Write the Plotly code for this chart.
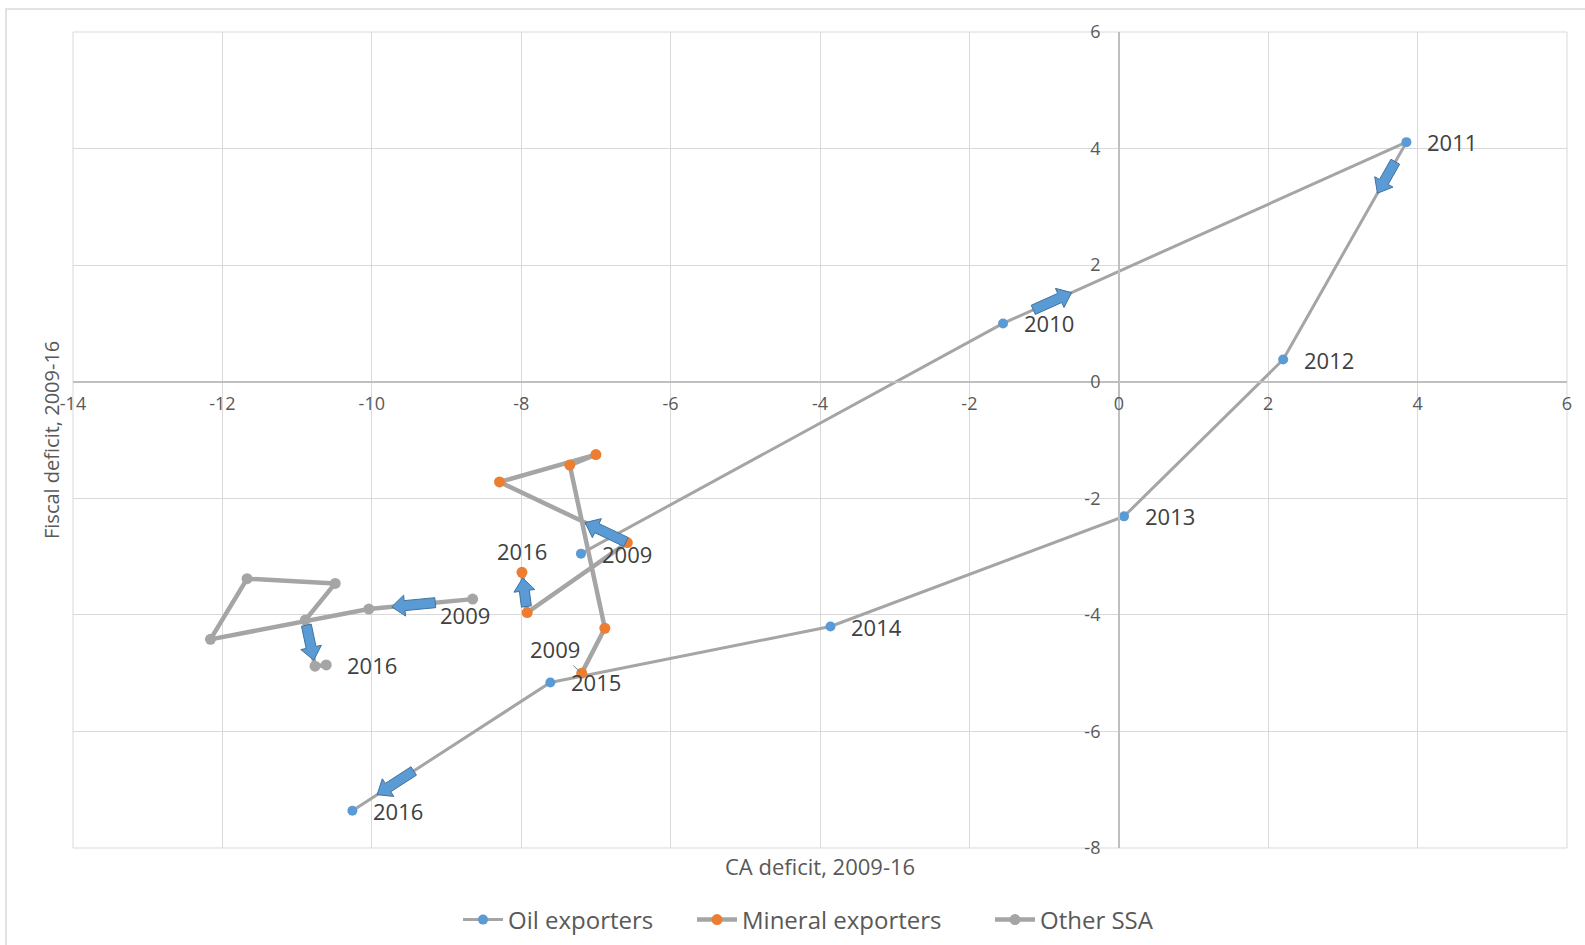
import math
import plotly.graph_objects as go

# ---- data: CA deficit (x) vs fiscal deficit (y), % of GDP, 2009-16 ----
years = [2009, 2010, 2011, 2012, 2013, 2014, 2015, 2016]

oil_ca = [-7.20, -1.55, 3.85, 2.20, 0.07, -3.86, -7.61, -10.26]
oil_fiscal = [-2.95, 1.00, 4.11, 0.38, -2.31, -4.20, -5.16, -7.36]

mineral_ca = [-7.19, -6.88, -7.35, -7.00, -8.29, -6.58, -7.92, -7.99]
mineral_fiscal = [-5.00, -4.23, -1.43, -1.25, -1.72, -2.76, -3.96, -3.27]

other_ca = [-8.65, -10.04, -12.16, -11.67, -10.49, -10.89, -10.76, -10.61]
other_fiscal = [-3.73, -3.90, -4.42, -3.38, -3.46, -4.09, -4.88, -4.86]

x_ticks = [-14, -12, -10, -8, -6, -4, -2, 0, 2, 4, 6]
y_ticks = [-8, -6, -4, -2, 0, 2, 4, 6]

series_names = ["Oil exporters", "Mineral exporters", "Other SSA"]

# ---- layout constants ----
W, H = 1585, 945
ML, MR, MT, MB = 73, 18, 32, 97
PW, PH = W - ML - MR, H - MT - MB
X0, X1 = -14, 6
Y0, Y1 = -8, 6
FONT = "Open Sans, Arial, sans-serif"
GRID = "#D9D9D9"
AXIS = "#BFBFBF"
LINE_GREY = "#A5A5A5"

series = {
    "oil": dict(x=oil_ca, y=oil_fiscal, name=series_names[0], color="#5B9BD5", lw=3, ms=10),
    "mineral": dict(x=mineral_ca, y=mineral_fiscal, name=series_names[1], color="#ED7D31", lw=4.5, ms=11),
    "other": dict(x=other_ca, y=other_fiscal, name=series_names[2], color="#A5A5A5", lw=4.5, ms=11),
}

# legend slot for each series and the pixel where its entry starts
legend_slots = {"oil": ("legend", 458), "mineral": ("legend2", 692), "other": ("legend3", 990)}

# which years carry a label, and where the label sits relative to its point
labels = {
    "oil": {y: "right" for y in years},
    "mineral": {2009: "leader", 2016: "above"},
    "other": {2009: "below", 2016: "right"},
}

# direction arrows: (series, from index, to index, start fraction, end fraction)
arrows = [
    ("oil", 1, 2, 0.075, 0.17),
    ("oil", 2, 3, 0.09, 0.235),
    ("oil", 6, 7, 0.69, 0.875),
    ("mineral", 5, 4, 0.01, 0.33),
    ("mineral", 6, 7, 0.15, 0.86),
    ("other", 0, 1, 0.36, 0.78),
    ("other", 5, 6, 0.11, 0.87),
]


def to_px(x, y):
    return (x - X0) / (X1 - X0) * PW, (Y1 - y) / (Y1 - Y0) * PH


def to_data(px, py):
    return X0 + px / PW * (X1 - X0), Y1 - py / PH * (Y1 - Y0)


def block_arrow(key, i, j, t0, t1, hw=5.0, hh=10.5, hl=13.0):
    s = series[key]
    ax, ay = to_px(s["x"][i], s["y"][i])
    bx, by = to_px(s["x"][j], s["y"][j])
    tx, ty = ax + t0 * (bx - ax), ay + t0 * (by - ay)
    px, py = ax + t1 * (bx - ax), ay + t1 * (by - ay)
    L = math.hypot(px - tx, py - ty)
    dx, dy = (px - tx) / L, (py - ty) / L
    nx, ny = -dy, dx
    kx, ky = px - dx * hl, py - dy * hl
    pts = [
        (tx + nx * hw, ty + ny * hw),
        (kx + nx * hw, ky + ny * hw),
        (kx + nx * hh, ky + ny * hh),
        (px, py),
        (kx - nx * hh, ky - ny * hh),
        (kx - nx * hw, ky - ny * hw),
        (tx - nx * hw, ty - ny * hw),
    ]
    coords = [to_data(a, b) for a, b in pts]
    path = "M " + " L ".join(f"{a:.5f},{b:.5f}" for a, b in coords) + " Z"
    return dict(type="path", xref="x", yref="y", path=path,
                fillcolor="#5B9BD5", line=dict(color="#41719C", width=1), layer="above")


fig = go.Figure()
for key, s in series.items():
    fig.add_trace(go.Scatter(
        x=s["x"], y=s["y"], name=s["name"], mode="lines+markers",
        line=dict(color=LINE_GREY, width=s["lw"]),
        marker=dict(color=s["color"], size=s["ms"], line=dict(width=0)),
        text=[str(y) for y in years], hoverinfo="text+x+y",
        legend=legend_slots[key][0],
    ))

annotations = []
label_font = dict(family=FONT, size=22, color="#404040")
for key, spec in labels.items():
    s = series[key]
    for yr, pos in spec.items():
        k = years.index(yr)
        a = dict(x=s["x"][k], y=s["y"][k], xref="x", yref="y", text=str(yr),
                 showarrow=False, font=label_font)
        if pos == "right":
            a.update(xanchor="left", yanchor="middle", xshift=19)
        elif pos == "above":
            a.update(xanchor="center", yanchor="middle", yshift=21)
        elif pos == "below":
            a.update(xanchor="center", yanchor="middle", yshift=-16, xshift=-8)
        elif pos == "leader":
            a.update(showarrow=True, arrowhead=0, arrowwidth=1, arrowcolor="#7F7F7F",
                     ax=-27, ay=-24, standoff=2)
        annotations.append(a)

# axis titles
annotations.append(dict(text="CA deficit, 2009-16", xref="paper", yref="paper",
                        x=0.5, y=-18 / PH, xanchor="center", yanchor="middle",
                        showarrow=False, font=dict(family=FONT, size=22, color="#595959")))
annotations.append(dict(text="Fiscal deficit, 2009-16", xref="paper", yref="paper",
                        x=(51 - ML) / PW, y=0.5, xanchor="center", yanchor="middle", textangle=-90,
                        showarrow=False, font=dict(family=FONT, size=20, color="#595959")))

shapes = [
    # plot frame
    dict(type="rect", xref="paper", yref="paper", x0=0, x1=1, y0=0, y1=1,
         line=dict(color=GRID, width=1), layer="below"),
    # chart border
    dict(type="rect", xref="paper", yref="paper",
         x0=(6 - ML) / PW, x1=(W + 20 - ML) / PW,
         y0=(H - MB - (H + 20)) / PH, y1=(H - MB - 9) / PH,
         line=dict(color=GRID, width=1.5), layer="below"),
]
shapes += [block_arrow(*a) for a in arrows]

tick_font = dict(family=FONT, size=18, color="#595959")
legend_font = dict(family=FONT, size=24, color="#595959")
legend_y = -(920 - (H - MB)) / PH


def legend_box(px):
    return dict(orientation="h", x=(px - ML) / PW, xanchor="left", y=legend_y,
                yanchor="middle", font=legend_font, bgcolor="rgba(0,0,0,0)", itemwidth=40)


fig.update_layout(
    width=W, height=H,
    margin=dict(l=ML, r=MR, t=MT, b=MB, autoexpand=False),
    paper_bgcolor="white", plot_bgcolor="white",
    xaxis=dict(range=[X0, X1], tickvals=x_ticks, ticktext=[str(v) for v in x_ticks],
               showgrid=True, gridcolor=GRID, gridwidth=1,
               zeroline=False, showline=True, linecolor=AXIS, linewidth=1.5, ticks="",
               anchor="free", position=(0 - Y0) / (Y1 - Y0), tickfont=tick_font,
               ticklabelstandoff=6, fixedrange=True),
    yaxis=dict(range=[Y0, Y1], tickvals=y_ticks, ticktext=[str(v) for v in y_ticks],
               showgrid=True, gridcolor=GRID, gridwidth=1,
               zeroline=False, showline=True, linecolor=AXIS, linewidth=1.5, ticks="",
               anchor="free", position=(0 - X0) / (X1 - X0), tickfont=tick_font,
               ticklabelstandoff=14, fixedrange=True),
    legend=legend_box(legend_slots["oil"][1]),
    legend2=legend_box(legend_slots["mineral"][1]),
    legend3=legend_box(legend_slots["other"][1]),
    annotations=annotations,
    shapes=shapes,
    showlegend=True,
)

fig.write_html("out.html")
